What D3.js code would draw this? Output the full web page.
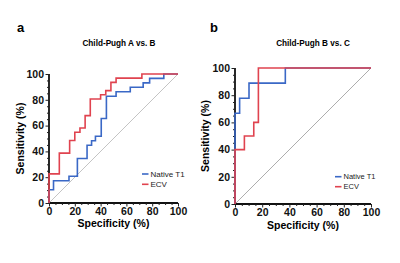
<!DOCTYPE html>
<html><head><meta charset="utf-8">
<script src="https://cdn.jsdelivr.net/npm/d3@7"></script>
<style>body{margin:0;background:#fff}svg{display:block}text{font-family:Arial,"Liberation Sans",Helvetica,sans-serif}</style>
</head><body>
<script>
// Panel a: Child-Pugh A vs. B
const t1SpecA = [0, 0, 3.5, 15.5, 22, 29.5, 33, 36, 40.5, 44.5, 52, 63, 73, 78, 89, 100];
const t1SensA = [0, 10.3, 17.2, 20.7, 34.5, 44.8, 48.3, 51.7, 65.5, 82.8, 86.2, 89.7, 93.1, 96.6, 100, 100];
const ecvSpecA = [0, 0, 8, 16, 20, 24, 28, 32, 40, 44, 48, 52, 72, 100];
const ecvSensA = [0, 22.6, 38.7, 48.4, 54.8, 58.1, 67.7, 80.6, 83.9, 87.1, 93.5, 96.8, 100, 100];
// Panel b: Child-Pugh B vs. C
const t1SpecB = [0, 0, 3.4, 10.3, 37, 100];
const t1SensB = [0, 66.7, 77.8, 88.9, 100, 100];
const ecvSpecB = [0, 0, 6.9, 13.8, 17.2, 100];
const ecvSensB = [0, 40, 50, 60, 100, 100];
const tickVals = [0, 20, 40, 60, 80, 100];
const seriesNames = ["Native T1", "ECV"];
const titles = ["Child-Pugh A vs. B", "Child-Pugh B vs. C"];
const panelLabels = ["a", "b"];

const blue = "#3a68c6", red = "#e0434f";
const svg = d3.select("body").append("svg").attr("width", 400).attr("height", 263);

const panels = [
  {lab: panelLabels[0], title: titles[0], x0: 49, x1: 178, y0: 203, y1: 74, labX: 17, diag: "#c4c4c4", diagW: 1,
   series: [[t1SpecA, t1SensA, blue], [ecvSpecA, ecvSensA, red]], legX: 142, legY: 174, legGap: 10.3, legFont: 8,
   titleX: 119, ylabX: 20, xlabY: 227},
  {lab: panelLabels[1], title: titles[1], x0: 235, x1: 371, y0: 204, y1: 68, labX: 210, diag: "#8a8a8a", diagW: 0.7,
   series: [[t1SpecB, t1SensB, blue], [ecvSpecB, ecvSensB, red]], legX: 335, legY: 176.7, legGap: 10, legFont: 7.5,
   titleX: 313, ylabX: 205, xlabY: 229}
];

panels.forEach(p => {
  const g = svg.append("g");
  const x = d3.scaleLinear().domain([0, 100]).range([p.x0, p.x1]);
  const y = d3.scaleLinear().domain([0, 100]).range([p.y0, p.y1]);

  g.append("text").attr("x", p.labX).attr("y", 32).attr("font-size", 13).attr("font-weight", "bold").text(p.lab);
  g.append("text").attr("x", p.titleX).attr("y", 46).attr("text-anchor", "middle")
    .attr("font-size", 8.2).attr("font-weight", "bold").text(p.title);

  // diagonal
  g.append("line").attr("x1", x(0)).attr("y1", y(0)).attr("x2", x(100)).attr("y2", y(100))
    .attr("stroke", p.diag).attr("stroke-width", p.diagW);

  // minor ticks
  const minor = d3.range(0, 101, 5).filter(v => v % 20 !== 0);
  const xa = g.append("g").attr("transform", `translate(0,${p.y0})`)
    .call(d3.axisBottom(x).tickValues(tickVals).tickSize(3.5).tickPadding(1.5).tickFormat(d3.format("d")));
  g.append("g").attr("transform", `translate(0,${p.y0})`)
    .call(d3.axisBottom(x).tickValues(minor).tickSize(2).tickFormat(""))
    .call(a => a.select(".domain").remove());
  const ya = g.append("g").attr("transform", `translate(${p.x0},0)`)
    .call(d3.axisLeft(y).tickValues(tickVals).tickSize(3.5).tickPadding(1.5).tickFormat(d3.format("d")));
  g.append("g").attr("transform", `translate(${p.x0},0)`)
    .call(d3.axisLeft(y).tickValues(minor).tickSize(2).tickFormat(""))
    .call(a => a.select(".domain").remove());
  g.selectAll(".domain").attr("stroke", "#111").attr("stroke-width", 1.8).attr("d", function () {
    return d3.select(this).attr("d").replace(/[Vv][^MH]*$/, m => m);
  });
  // clean axis domain paths (no outer ticks)
  xa.select(".domain").attr("d", `M${p.x0},0H${p.x1}`);
  ya.select(".domain").attr("d", `M0,${p.y0}V${p.y1}`);
  g.selectAll(".tick line").attr("stroke", "#222").attr("stroke-width", 1);
  g.selectAll(".tick text").attr("font-size", 10.5).attr("font-weight", "bold").attr("fill", "#111")
    .attr("font-family", "Arial, 'Liberation Sans', sans-serif");

  g.append("text").attr("x", (p.x0 + p.x1) / 2).attr("y", p.xlabY).attr("text-anchor", "middle")
    .attr("font-size", 10.5).attr("font-weight", "bold").text("Specificity (%)");
  g.append("text").attr("transform", `translate(${p.ylabX},${(p.y0 + p.y1) / 2}) rotate(-90)`)
    .attr("text-anchor", "middle").attr("dy", "0.35em")
    .attr("font-size", 10.5).attr("font-weight", "bold").text("Sensitivity (%)");

  const line = d3.line().curve(d3.curveStepAfter).x(d => x(d[0])).y(d => y(d[1]));
  p.series.forEach(([sx, sy, c]) => {
    const pts = sx.map((v, i) => [v, sy[i]]);
    g.append("path").datum(pts).attr("d", line).attr("fill", "none")
      .attr("stroke", c).attr("stroke-width", 1.6).attr("stroke-linejoin", "miter");
  });

  // legend
  seriesNames.forEach((n, i) => {
    const ly = p.legY + i * p.legGap;
    g.append("line").attr("x1", p.legX).attr("x2", p.legX + 6.5).attr("y1", ly).attr("y2", ly)
      .attr("stroke", i === 0 ? blue : red).attr("stroke-width", 1.6);
    g.append("text").attr("x", p.legX + 8.5).attr("y", ly).attr("dy", "0.35em")
      .attr("font-size", p.legFont).attr("fill", "#222").text(n);
  });
});
</script>
</body></html>
